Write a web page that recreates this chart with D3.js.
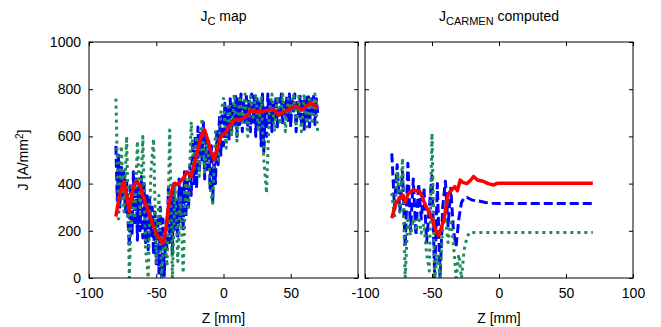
<!DOCTYPE html>
<html>
<head>
<meta charset="utf-8">
<script src="https://cdn.jsdelivr.net/npm/d3@7"></script>
<style>
  html, body { margin: 0; padding: 0; background: #fff; }
  svg { display: block; }
  text { font-family: "Liberation Sans", Arial, sans-serif; fill: #000; }
</style>
</head>
<body>
<svg id="chart" width="661" height="327"></svg>
<script>
// ---- data (Z in mm, J in A/mm^2) ----
const xTicks = [-100, -50, 0, 50, 100];
const yTicks = [0, 200, 400, 600, 800, 1000];

// measured map: blue trace at 1 mm, green trace at 2 mm, from -80 to 70 mm
const zMapBlue = d3.range(-80, 71);
const mapBlue = [
  560, 330, 520, 300, 480, 350, 450, 280, 420, 250,
  133, 400, 180, 450, 220, 420, 160, 380, 200, 430,
  170, 400, 150, 360, 120, 340, 180, 300, 100, 280,
  60, 260, 20, 300, 0, 250, 10, 200, 120, 380,
  150, 350, 100, 400, 200, 330, 170, 420, 230, 380,
  200, 450, 260, 420, 300, 480, 350, 580, 400, 600,
  380, 640, 450, 620, 500, 660, 420, 600, 460, 580,
  380, 560, 320, 520, 400, 620, 480, 680, 520, 700,
  560, 740, 600, 720, 580, 760, 620, 740, 640, 770,
  600, 760, 650, 780, 620, 750, 660, 770, 640, 760,
  620, 780, 660, 770, 600, 760, 640, 750, 560, 780,
  530, 720, 600, 780, 650, 760, 620, 740, 670, 770,
  640, 760, 680, 780, 650, 740, 690, 770, 660, 780,
  640, 760, 700, 780, 620, 750, 680, 770, 650, 760,
  630, 770, 660, 780, 640, 760, 690, 770, 650, 760,
  700
];
const zMapGreen = d3.range(-80, 71, 2);
const mapGreen = [
  760, 250, 560, 280, 600, 0, 400, 250, 580, 270,
  600, 130, 0, 450, 590, 60, 350, 0, 200, 50,
  627, 0, 400, 70, 350, 20, 420, 300, 662, 450,
  600, 430, 677, 450, 600, 380, 317, 620, 500, 700,
  761, 550, 740, 600, 780, 580, 770, 650, 780, 600,
  770, 680, 780, 620, 770, 500, 359, 700, 780, 620,
  770, 650, 780, 620, 760, 700, 780, 640, 770, 620,
  780, 640, 770, 650, 780, 620
];
const zMapRed = [-80, -78, -76, -74, -72, -70, -68, -66, -64, -62, -60, -57, -54, -51, -48, -45,
  -43, -41, -38, -36, -34, -32, -29, -27, -24, -21, -18, -16, -14, -12, -9, -7, -4, -2,
  2, 5, 8, 12, 15, 18, 20, 24, 28, 32, 35, 38, 41, 45, 49, 53, 55, 58, 61, 65, 67, 70];
const mapRed = [260, 330, 380, 408, 350, 281, 360, 400, 408, 390, 350, 300, 250, 200, 170, 147,
  200, 300, 380, 401, 395, 408, 430, 450, 430, 500, 570, 610, 627, 590, 530, 500, 560, 599,
  620, 650, 669, 670, 677, 690, 712, 705, 705, 710, 712, 712, 690, 705, 715, 729, 725, 712, 725, 743, 735, 723];

// CARMEN computation
const zCarBlue = d3.range(-80, -21, 2).concat([-20, -15, -10, -5, 0, 70]);
const carBlue = [
  528, 300, 480, 280, 450, 133, 486, 200, 420, 180,
  400, 250, 380, 150, 300, 433, 0, 400, 0, 300,
  410, 220, 380, 200, 135, 250, 320, 340, 342, 336,
  330, 326, 320, 317, 316, 316
];
const zCarGreen = d3.range(-80, -21, 2).concat([-20, 70]);
const carGreen = [
  360, 250, 450, 280, 507, 0, 260, 180, 250, 200,
  260, 190, 230, 100, 30, 613, 0, 100, 0, 230,
  250, 150, 250, 145, 0, 100, 0, 120, 170, 193,
  193, 193
];
const zCarRed = [-80, -77, -74, -72, -70, -68, -66, -64, -62, -59, -55, -50, -47, -45, -41, -38,
  -35, -33, -31, -29, -27, -24, -21, -19, -16, -12, -8, -4, -2, 0, 70];
const carRed = [253, 316, 340, 352, 320, 355, 365, 373, 370, 365, 310, 250, 200, 180, 250, 355,
  375, 387, 370, 415, 405, 400, 415, 430, 415, 410, 400, 394, 400, 401, 401];

// ---- layout ----
const svg = d3.select("#chart");
const plotTop = 42, plotBottom = 278;
const panels = [
  { left: 89, right: 358, title: "map", sub: "C", showLast: false, yLabels: true,
    series: [
      { z: zMapBlue, j: mapBlue, color: "#0000ff", dash: "9,4", w: 3 },
      { z: zMapGreen, j: mapGreen, color: "#1e8c5a", dash: "3,4", w: 3 },
      { z: zMapRed, j: mapRed, color: "#ff0000", dash: null, w: 3.5 }
    ] },
  { left: 365, right: 633, title: "computed", sub: "CARMEN", showLast: true, yLabels: false,
    series: [
      { z: zCarBlue, j: carBlue, color: "#0000ff", dash: "9,4", w: 3 },
      { z: zCarGreen, j: carGreen, color: "#1e8c5a", dash: "3,4", w: 3 },
      { z: zCarRed, j: carRed, color: "#ff0000", dash: null, w: 3.5 }
    ] }
];

const y = d3.scaleLinear().domain([0, 1000]).range([plotBottom, plotTop]);

panels.forEach((p, i) => {
  const x = d3.scaleLinear().domain([-100, 100]).range([p.left, p.right]);
  const g = svg.append("g");

  const clipId = "clip" + i;
  svg.append("clipPath").attr("id", clipId)
    .append("rect").attr("x", p.left).attr("y", plotTop)
    .attr("width", p.right - p.left).attr("height", plotBottom - plotTop);

  const lineGen = d3.line().x(d => x(d[0])).y(d => y(d[1]));
  const plot = g.append("g").attr("clip-path", `url(#${clipId})`);
  p.series.forEach(s => {
    plot.append("path")
      .datum(s.z.map((z, k) => [z, s.j[k]]))
      .attr("d", lineGen)
      .attr("fill", "none")
      .attr("stroke", s.color)
      .attr("stroke-width", s.w)
      .attr("stroke-linejoin", "round")
      .attr("stroke-dasharray", s.dash);
  });

  // axes with inward ticks on all four sides
  const xb = g.append("g").attr("transform", `translate(0,${plotBottom})`)
    .call(d3.axisBottom(x).tickValues(xTicks).tickSizeInner(-4).tickSizeOuter(0).tickPadding(10)
      .tickFormat(d => (d === 100 && !p.showLast) ? "" : d));
  const xt = g.append("g").attr("transform", `translate(0,${plotTop})`)
    .call(d3.axisTop(x).tickValues(xTicks).tickSizeInner(-4).tickSizeOuter(0).tickFormat(""));
  const ya = g.append("g").attr("transform", `translate(${p.left},0)`)
    .call(d3.axisLeft(y).tickValues(yTicks).tickSizeInner(-4).tickSizeOuter(0).tickPadding(8)
      .tickFormat(d => p.yLabels ? d : ""));
  const yb = g.append("g").attr("transform", `translate(${p.right},0)`)
    .call(d3.axisRight(y).tickValues(yTicks).tickSizeInner(-4).tickSizeOuter(0).tickFormat(""));

  [xb, xt, ya, yb].forEach(a => {
    a.select(".domain").remove();
    a.selectAll("line").attr("stroke", "#000");
    a.selectAll("text").attr("font-size", 14).style("font-family", "'Liberation Sans', Arial, sans-serif");
  });

  g.append("rect").attr("x", p.left).attr("y", plotTop)
    .attr("width", p.right - p.left).attr("height", plotBottom - plotTop)
    .attr("fill", "none").attr("stroke", "#000").attr("stroke-width", 1);

  const cx = (p.left + p.right) / 2;
  g.append("text").attr("x", cx).attr("y", 323).attr("text-anchor", "middle")
    .attr("font-size", 14).text("Z [mm]");

  const t = g.append("text").attr("x", cx).attr("y", 21).attr("text-anchor", "middle")
    .attr("font-size", 14);
  t.append("tspan").text("J");
  t.append("tspan").attr("font-size", 11).attr("dy", 4).text(p.sub);
  t.append("tspan").attr("dy", -4).text(" " + p.title);
});

// y axis label
const yLab = svg.append("text")
  .attr("transform", `translate(28,${(plotTop + plotBottom) / 2}) rotate(-90)`)
  .attr("text-anchor", "middle").attr("font-size", 14);
yLab.append("tspan").text("J [A/mm");
yLab.append("tspan").attr("font-size", 10).attr("dy", -5).text("2");
yLab.append("tspan").attr("dy", 5).text("]");
</script>
</body>
</html>
